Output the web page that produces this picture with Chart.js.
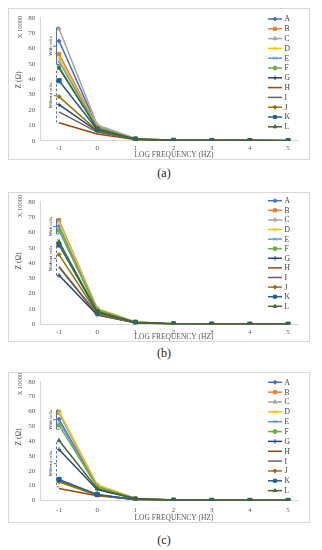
<!DOCTYPE html>
<html>
<head>
<meta charset="utf-8">
<script src="https://cdn.jsdelivr.net/npm/chart.js@4.4.1/dist/chart.umd.min.js"></script>
<style>
  body { margin: 0; background: #fff; width: 322px; height: 550px; position: relative; overflow: hidden; }
  canvas { position: absolute; left: 8px; }
  .cap { position: absolute; left: 114px; width: 100px; text-align: center; font: 12px "Liberation Serif", serif; color: #222; line-height: 14px; }
</style>
</head>
<body>
<canvas id="chartA" width="302" height="152" style="top:8px"></canvas>
<div class="cap" style="top:166px">(a)</div>
<canvas id="chartB" width="302" height="150" style="top:192px"></canvas>
<div class="cap" style="top:346px">(b)</div>
<canvas id="chartC" width="302" height="151" style="top:372px"></canvas>
<div class="cap" style="top:533px">(c)</div>
<script>
// log frequency (Hz) on the x axis
const xVals = [-1, 0, 1, 2, 3, 4, 5];
const xTicks = [-1, 0, 1, 2, 3, 4, 5];
const seriesNames = ['A', 'B', 'C', 'D', 'E', 'F', 'G', 'H', 'I', 'J', 'K', 'L'];

// Z (Ω) x 10000, one row per series A..L
const panelA = [
  [64.9, 9.2, 1.3, 0.3, 0.15, 0.08, 0.05],
  [56.3, 9.5, 1.3, 0.3, 0.15, 0.08, 0.05],
  [72.8, 10.3, 1.5, 0.3, 0.15, 0.08, 0.05],
  [53.7, 9.3, 1.2, 0.3, 0.15, 0.08, 0.05],
  [51.5, 8.9, 1.2, 0.3, 0.15, 0.08, 0.05],
  [48.0, 8.3, 1.1, 0.3, 0.15, 0.08, 0.05],
  [23.4, 6.2, 0.9, 0.2, 0.1, 0.05, 0.03],
  [11.7, 4.3, 0.7, 0.2, 0.1, 0.05, 0.03],
  [18.7, 5.6, 0.8, 0.2, 0.1, 0.05, 0.03],
  [28.7, 6.6, 0.9, 0.2, 0.1, 0.05, 0.03],
  [39.0, 7.3, 1.0, 0.2, 0.1, 0.05, 0.03],
  [47.3, 7.8, 1.0, 0.2, 0.1, 0.05, 0.03]
];
const panelB = [
  [64.0, 9.6, 1.4, 0.3, 0.15, 0.08, 0.05],
  [67.9, 10.2, 1.5, 0.3, 0.15, 0.08, 0.05],
  [67.4, 10.0, 1.5, 0.3, 0.15, 0.08, 0.05],
  [66.5, 10.1, 1.5, 0.3, 0.15, 0.08, 0.05],
  [63.3, 9.5, 1.4, 0.3, 0.15, 0.08, 0.05],
  [61.2, 9.3, 1.4, 0.3, 0.15, 0.08, 0.05],
  [32.0, 6.0, 1.0, 0.2, 0.1, 0.05, 0.03],
  [37.8, 6.5, 1.0, 0.2, 0.1, 0.05, 0.03],
  [37.2, 6.4, 1.0, 0.2, 0.1, 0.05, 0.03],
  [45.5, 7.2, 1.1, 0.2, 0.1, 0.05, 0.03],
  [51.8, 8.0, 1.2, 0.2, 0.1, 0.05, 0.03],
  [53.9, 8.3, 1.2, 0.2, 0.1, 0.05, 0.03]
];
const panelC = [
  [54.8, 9.6, 1.3, 0.3, 0.15, 0.08, 0.05],
  [59.3, 10.3, 1.4, 0.3, 0.15, 0.08, 0.05],
  [58.7, 10.0, 1.4, 0.3, 0.15, 0.08, 0.05],
  [60.2, 10.6, 1.4, 0.3, 0.15, 0.08, 0.05],
  [53.3, 9.3, 1.3, 0.3, 0.15, 0.08, 0.05],
  [50.7, 9.0, 1.3, 0.3, 0.15, 0.08, 0.05],
  [34.4, 7.3, 1.1, 0.2, 0.1, 0.05, 0.03],
  [8.1, 3.2, 0.6, 0.2, 0.1, 0.05, 0.03],
  [13.3, 3.8, 0.7, 0.2, 0.1, 0.05, 0.03],
  [12.5, 3.6, 0.7, 0.2, 0.1, 0.05, 0.03],
  [14.2, 4.0, 0.7, 0.2, 0.1, 0.05, 0.03],
  [40.4, 8.0, 1.2, 0.2, 0.1, 0.05, 0.03]
];

// bracket ranges (y values) for the "With cells" / "Without cells" marks
const withCellsA = [73.5, 49.5];
const withoutCellsA = [46.5, 12];
const withCellsB = [68.5, 59];
const withoutCellsB = [55, 31];
const withCellsC = [60.8, 48];
const withoutCellsC = [40.4, 9.2];

// styles
const seriesColors = ['#4472C4', '#ED7D31', '#A5A5A5', '#FFC000', '#5B9BD5', '#70AD47',
                      '#264478', '#9E480E', '#636363', '#997300', '#255E91', '#43682B'];
const markerStyles = ['rectRot', 'rect', 'triangle', 'crossRot', 'crossRot', 'circle',
                      'cross', false, false, 'rectRot', 'rect', 'triangle'];
const markerSizes = [2, 2.5, 2.2, 2.2, 2.2, 2, 2.2, 0, 0, 2, 3, 2];

const serif = '"Liberation Serif", "Times New Roman", serif';

function drawBracket(ctx, xs, ys, range, text, dashed) {
  const px = Math.round(xs.getPixelForValue(-1)) - 2.5;
  const y1 = ys.getPixelForValue(range[0]);
  const y2 = ys.getPixelForValue(range[1]);
  const mid = (y1 + y2) / 2;
  ctx.save();
  ctx.strokeStyle = '#4472C4';
  ctx.lineWidth = 1;
  ctx.setLineDash(dashed ? [2.5, 2] : []);
  ctx.beginPath();
  ctx.moveTo(px + 3, y1);
  ctx.lineTo(px, y1);
  ctx.lineTo(px, y2);
  ctx.lineTo(px + 3, y2);
  ctx.moveTo(px, mid);
  ctx.lineTo(px - 3.5, mid);
  ctx.stroke();
  ctx.fillStyle = '#222';
  ctx.font = '4.8px ' + serif;
  ctx.textAlign = 'center';
  ctx.textBaseline = 'middle';
  ctx.translate(px - 6, mid);
  ctx.rotate(-Math.PI / 2);
  ctx.fillText(text, 0, 0);
  ctx.restore();
}

const panelDeco = {
  id: 'panelDeco',
  afterDraw(chart, args, opts) {
    const ctx = chart.ctx;
    const xs = chart.scales.x, ys = chart.scales.y;
    ctx.save();
    // panel frame
    ctx.strokeStyle = '#d9d9d9';
    ctx.lineWidth = 1;
    ctx.strokeRect(0.5, 0.5, chart.width - 1, chart.height - 1);

    // axis titles
    ctx.fillStyle = '#595959';
    ctx.textAlign = 'center';
    ctx.textBaseline = 'middle';
    ctx.font = '7.5px ' + serif;
    ctx.fillText('LOG FREQUENCY (HZ)', 166, ys.bottom + opts.titleGap);
    ctx.save();
    ctx.translate(11, opts.zY);
    ctx.rotate(-Math.PI / 2);
    ctx.fillText('Z (Ω)', 0, 0);
    ctx.restore();
    ctx.save();
    ctx.font = '6.5px ' + serif;
    ctx.translate(12, opts.unitY);
    ctx.rotate(-Math.PI / 2);
    ctx.fillText('X 10000', 0, 0);
    ctx.restore();

    drawBracket(ctx, xs, ys, opts.withCells, 'With cells', false);
    drawBracket(ctx, xs, ys, opts.withoutCells, 'Without cells', true);

    // legend
    ctx.font = '7.5px ' + serif;
    ctx.textAlign = 'left';
    seriesNames.forEach((name, i) => {
      const ly = opts.legendTop + i * opts.legendStep;
      ctx.strokeStyle = seriesColors[i];
      ctx.fillStyle = seriesColors[i];
      ctx.lineWidth = 1.5;
      ctx.beginPath();
      ctx.moveTo(260, ly);
      ctx.lineTo(274, ly);
      ctx.stroke();
      if (markerStyles[i]) {
        ctx.lineWidth = 1;
        Chart.helpers.drawPoint(ctx, {pointStyle: markerStyles[i], radius: Math.min(markerSizes[i], 2.2), rotation: 0, borderWidth: 1}, 267, ly);
      }
      ctx.fillStyle = '#404040';
      ctx.fillText(name, 276.5, ly + 0.5);
    });
    ctx.restore();
  }
};

function makeChart(id, rows, lay) {
  const datasets = seriesNames.map((name, i) => ({
    label: name,
    data: xVals.map((x, j) => ({x: x, y: rows[i][j]})),
    borderColor: seriesColors[i],
    backgroundColor: seriesColors[i],
    borderWidth: 1.5,
    pointStyle: markerStyles[i],
    pointRadius: markerSizes[i],
    pointBorderWidth: 1,
    order: seriesNames.length - i,
    tension: 0
  }));

  new Chart(document.getElementById(id), {
    type: 'line',
    data: {datasets: datasets},
    options: {
      responsive: false,
      animation: false,
      events: [],
      layout: {padding: {top: lay.padTop, right: 12, bottom: 0, left: 0}},
      plugins: {
        legend: {display: false},
        tooltip: {enabled: false},
        panelDeco: lay
      },
      scales: {
        x: {
          type: 'linear',
          min: -1.48,
          max: 5.26,
          afterBuildTicks: s => { s.ticks = xTicks.map(v => ({value: v})); },
          afterFit: s => { s.height = lay.axisH; },
          grid: {display: false, drawTicks: false},
          border: {color: '#d9d9d9', width: 1},
          ticks: {autoSkip: false, maxRotation: 0, padding: lay.tickPad, color: '#595959', font: {family: serif, size: 7}}
        },
        y: {
          min: 0,
          max: 80,
          afterFit: s => { s.width = 32.7; },
          grid: {display: false, drawTicks: false},
          border: {color: '#d9d9d9', width: 1},
          ticks: {stepSize: 10, padding: 5.5, color: '#595959', font: {family: serif, size: 7}}
        }
      }
    },
    plugins: [panelDeco]
  });
}

makeChart('chartA', panelA, {padTop: 7, axisH: 19.3, tickPad: 3.1, titleGap: 14.8, zY: 72, unitY: 19,
  legendTop: 11, legendStep: 9.8, withCells: withCellsA, withoutCells: withoutCellsA});
makeChart('chartB', panelB, {padTop: 4.7, axisH: 17.7, tickPad: 3.3, titleGap: 12.5, zY: 69, unitY: 14,
  legendTop: 8.7, legendStep: 9.6, withCells: withCellsB, withoutCells: withoutCellsB});
makeChart('chartC', panelC, {padTop: 5.3, axisH: 22.5, tickPad: 5.3, titleGap: 17.5, zY: 65, unitY: 12,
  legendTop: 10.3, legendStep: 9.85, withCells: withCellsC, withoutCells: withoutCellsC});
</script>
</body>
</html>
